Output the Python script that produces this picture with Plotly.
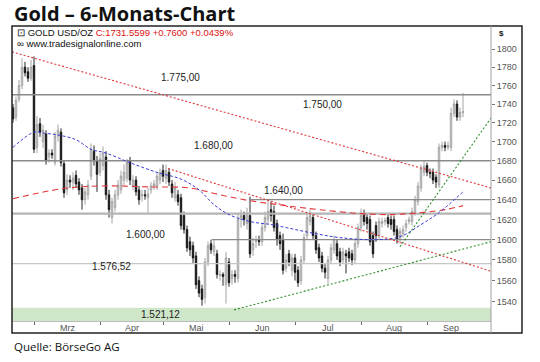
import math
import plotly.graph_objects as go

# ---------------- data ----------------
title_text = "Gold – 6-Monats-Chart"
source_text = "Quelle: BörseGo AG"
instrument = "GOLD USD/OZ"
quote_text = "C:1731.5599 +0.7600 +0.0439%"
website = "www.tradesignalonline.com"

day = list(range(151))
open_ = [1736, 1726, 1745, 1760, 1780, 1775, 1768, 1782, 1694, 1719,
         1700, 1708, 1684, 1688, 1678, 1706, 1710, 1677, 1650, 1660,
         1658, 1665, 1658, 1652, 1640, 1645, 1664, 1690, 1680, 1668,
         1675, 1684, 1645, 1622, 1632, 1645, 1650, 1660, 1662, 1680,
         1654, 1660, 1650, 1644, 1645, 1642, 1650, 1654, 1654, 1660,
         1670, 1662, 1668, 1656, 1642, 1645, 1642, 1624, 1610, 1598,
         1594, 1584, 1560, 1552, 1544, 1578, 1596, 1588, 1586, 1565,
         1566, 1556, 1578, 1562, 1566, 1562, 1620, 1624, 1616, 1624,
         1590, 1598, 1600, 1598, 1612, 1620, 1630, 1628, 1616, 1604,
         1600, 1572, 1586, 1570, 1582, 1570, 1560, 1580, 1604, 1618,
         1622, 1604, 1592, 1584, 1572, 1562, 1580, 1590, 1596, 1588,
         1580, 1586, 1588, 1586, 1580, 1596, 1612, 1626, 1622, 1620,
         1604, 1614, 1604, 1616, 1618, 1622, 1620, 1620, 1610, 1600,
         1606, 1612, 1618, 1618, 1628, 1638, 1652, 1668, 1675, 1668,
         1668, 1663, 1655, 1694, 1696, 1694, 1694, 1730, 1740, 1726,
         1731]
high = [1740, 1748, 1766, 1790, 1786, 1780, 1788, 1792, 1727, 1725,
        1718, 1712, 1692, 1692, 1710, 1718, 1714, 1680, 1666, 1665,
        1668, 1670, 1662, 1656, 1652, 1660, 1698, 1696, 1685, 1688,
        1695, 1690, 1650, 1642, 1650, 1660, 1670, 1676, 1682, 1684,
        1665, 1664, 1654, 1650, 1650, 1652, 1658, 1660, 1668, 1672,
        1676, 1676, 1672, 1660, 1658, 1650, 1646, 1628, 1614, 1603,
        1598, 1588, 1564, 1556, 1582, 1598, 1600, 1600, 1590, 1570,
        1568, 1588, 1582, 1570, 1570, 1626, 1630, 1628, 1632, 1643,
        1602, 1604, 1604, 1616, 1628, 1640, 1638, 1634, 1620, 1608,
        1606, 1586, 1590, 1586, 1586, 1574, 1584, 1606, 1628, 1630,
        1626, 1608, 1596, 1588, 1576, 1584, 1596, 1604, 1600, 1592,
        1592, 1590, 1592, 1590, 1600, 1616, 1631, 1630, 1626, 1624,
        1608, 1618, 1622, 1622, 1622, 1626, 1624, 1624, 1614, 1612,
        1614, 1620, 1623, 1632, 1644, 1658, 1676, 1680, 1678, 1672,
        1672, 1666, 1698, 1700, 1700, 1700, 1736, 1745, 1744, 1736,
        1752]
low = [1720, 1722, 1742, 1756, 1770, 1764, 1765, 1688, 1688, 1705,
       1693, 1676, 1678, 1682, 1675, 1700, 1674, 1642, 1645, 1652,
       1650, 1652, 1645, 1630, 1635, 1640, 1660, 1675, 1648, 1664,
       1670, 1640, 1622, 1616, 1628, 1640, 1646, 1655, 1658, 1655,
       1650, 1644, 1635, 1638, 1640, 1626, 1646, 1650, 1650, 1656,
       1658, 1656, 1654, 1642, 1638, 1634, 1610, 1606, 1588, 1584,
       1576, 1552, 1544, 1536, 1538, 1574, 1586, 1584, 1562, 1560,
       1555, 1538, 1554, 1556, 1558, 1558, 1612, 1614, 1610, 1582,
       1584, 1592, 1594, 1594, 1608, 1616, 1618, 1608, 1594, 1590,
       1566, 1568, 1574, 1564, 1560, 1554, 1556, 1576, 1600, 1614,
       1600, 1586, 1578, 1568, 1562, 1557, 1576, 1586, 1580, 1574,
       1576, 1567, 1578, 1575, 1576, 1592, 1608, 1614, 1610, 1594,
       1582, 1598, 1600, 1612, 1614, 1612, 1610, 1604, 1596, 1596,
       1602, 1608, 1615, 1614, 1624, 1634, 1648, 1664, 1664, 1662,
       1656, 1652, 1652, 1690, 1690, 1691, 1690, 1726, 1722, 1722,
       1726]
close = [1724, 1744, 1760, 1780, 1774, 1768, 1780, 1692, 1718, 1710,
         1712, 1680, 1688, 1686, 1706, 1712, 1678, 1647, 1660, 1658,
         1662, 1656, 1650, 1640, 1648, 1655, 1692, 1680, 1666, 1682,
         1688, 1645, 1630, 1638, 1645, 1655, 1664, 1668, 1678, 1660,
         1660, 1648, 1640, 1645, 1644, 1646, 1654, 1656, 1664, 1668,
         1664, 1670, 1658, 1647, 1652, 1638, 1614, 1610, 1592, 1590,
         1582, 1556, 1548, 1542, 1578, 1594, 1590, 1594, 1566, 1566,
         1564, 1582, 1558, 1566, 1564, 1620, 1624, 1620, 1626, 1586,
         1596, 1600, 1598, 1612, 1622, 1628, 1624, 1612, 1600, 1596,
         1570, 1580, 1578, 1582, 1568, 1558, 1580, 1602, 1622, 1624,
         1604, 1590, 1582, 1572, 1568, 1580, 1592, 1600, 1584, 1578,
         1588, 1584, 1582, 1580, 1596, 1612, 1624, 1618, 1616, 1598,
         1586, 1604, 1618, 1618, 1619, 1616, 1615, 1608, 1600, 1608,
         1610, 1616, 1620, 1628, 1640, 1654, 1672, 1674, 1668, 1667,
         1660, 1658, 1694, 1696, 1694, 1696, 1730, 1740, 1726, 1731,
         1731.56]

# moving averages (day index, price)
ma_fast_day = [0, 7, 10, 15, 21, 26, 31, 39, 48, 56, 62, 67, 72, 79, 86, 91,
               99, 109, 121, 129, 136, 142, 150]
ma_fast_val = [1694, 1710, 1709, 1707, 1702, 1692, 1688, 1678, 1668, 1661,
               1650, 1635, 1625, 1618, 1615, 1612, 1607, 1602, 1600, 1603,
               1615, 1627, 1648]
ma_slow_day = [0, 16, 29, 46, 59, 69, 79, 91, 102, 116, 126, 136, 144, 150]
ma_slow_val = [1641, 1651, 1654, 1653, 1652, 1645, 1639, 1634, 1630, 1626,
               1625, 1627, 1630, 1634]

# trend lines (day index, price) at their ends
res_upper_day = [-0.33, 159.33]
res_upper_val = [1797, 1652]
res_lower_day = [51.7, 159.33]
res_lower_val = [1672, 1569]
sup_lower_day = [73.7, 159.33]
sup_lower_val = [1532, 1598]
sup_steep_day = [129, 159.33]
sup_steep_val = [1593, 1725]

# horizontal levels
level_val = [1750, 1680, 1640, 1626, 1600, 1576.52]
level_from = [-0.33, -0.33, 78.7, -0.33, 66.3, -0.33]
level_label = ["1.750,00", "1.680,00", "1.640,00", "", "1.600,00", "1.576,52"]
extra_label = "1.775,00"
zone_low = 1521.12
zone_high = 1534
zone_label = "1.521,12"

month_start = [7, 29, 50, 72, 94, 116, 138]
month_names = ["Mrz", "Apr", "Mai", "Jun", "Jul", "Aug", "Sep"]
y_ticks = [1540, 1560, 1580, 1600, 1620, 1640, 1660, 1680, 1700, 1720,
           1740, 1760, 1780, 1800]

# ---------------- figure ----------------
X0, X1 = -0.333, 159.333
Y0, Y1 = 1521.5, 1826.0
LBL = "Liberation Sans, Arial, sans-serif"

fig = go.Figure()

# support zone
fig.add_shape(type="rect", xref="x", yref="y", x0=X0, x1=X1, y0=zone_low, y1=zone_high,
              fillcolor="#cfe6c9", line=dict(width=0), layer="below")

# level lines
level_colors = ["#8a8a8a", "#8a8a8a", "#8a8a8a", "#b4b4b4", "#8a8a8a", "#c6c6c6"]
level_widths = [1.3, 1.3, 1.3, 2.2, 1.3, 1.3]
for v, f, c, w in zip(level_val, level_from, level_colors, level_widths):
    fig.add_trace(go.Scatter(x=[f, X1], y=[v, v], mode="lines",
                             line=dict(color=c, width=w), hoverinfo="skip", showlegend=False))

# moving averages
fig.add_trace(go.Scatter(x=ma_slow_day, y=ma_slow_val, mode="lines", line_shape="spline",
                         line=dict(color="#e0373a", width=1.1, dash="6px,4px"),
                         hoverinfo="skip", showlegend=False))
fig.add_trace(go.Scatter(x=ma_fast_day, y=ma_fast_val, mode="lines", line_shape="spline",
                         line=dict(color="#3c3cd6", width=1.0, dash="3px,2px"),
                         hoverinfo="skip", showlegend=False))

# trend lines
for xs, ys, col in [(res_upper_day, res_upper_val, "#e0373a"),
                    (res_lower_day, res_lower_val, "#e0373a"),
                    (sup_lower_day, sup_lower_val, "#2f8f2f"),
                    (sup_steep_day, sup_steep_val, "#2f8f2f")]:
    fig.add_trace(go.Scatter(x=xs, y=ys, mode="lines",
                             line=dict(color=col, width=1.1, dash="2px,2px"),
                             hoverinfo="skip", showlegend=False))

# candles
fig.add_trace(go.Candlestick(
    x=day, open=open_, high=high, low=low, close=close,
    increasing=dict(line=dict(color="#9a9a9a", width=0.9), fillcolor="#eeeeee"),
    decreasing=dict(line=dict(color="#111111", width=0.9), fillcolor="#111111"),
    whiskerwidth=0, showlegend=False, hoverinfo="skip"))

# level labels (annotation y on a log axis is given as log10)
lab_pos = {"1.750,00": (103.3, 1740), "1.680,00": (66.7, 1696), "1.640,00": (90, 1649),
           "1.600,00": (44, 1605), "1.576,52": (32.7, 1574)}
anns = []
for t in level_label:
    if t:
        px, py = lab_pos[t]
        anns.append(dict(x=px, y=math.log10(py), xref="x", yref="y", text=t, showarrow=False,
                         font=dict(family=LBL, size=10, color="#222222")))
anns.append(dict(x=55.7, y=math.log10(1769), xref="x", yref="y", text=extra_label,
                 showarrow=False, font=dict(family=LBL, size=10, color="#222222")))
anns.append(dict(x=49, y=math.log10(1528), xref="x", yref="y", text=zone_label,
                 showarrow=False, font=dict(family=LBL, size=10, color="#222222")))

# month labels centred between month starts
ends = month_start[1:] + [154]
for s, e, n in zip(month_start, ends, month_names):
    anns.append(dict(x=(s + e) / 2, y=-0.024, xref="x", yref="paper", text=n,
                     showarrow=False, yanchor="middle",
                     font=dict(family=LBL, size=9, color="#555555")))

# header texts
anns.append(dict(x=0.006, y=0.977, xref="paper", yref="paper", xanchor="left", yanchor="middle",
                 text="⊡ " + instrument + " <span style='color:#e01010'>" + quote_text + "</span>",
                 showarrow=False, font=dict(family=LBL, size=9.5, color="#111111")))
anns.append(dict(x=0.006, y=0.939, xref="paper", yref="paper", xanchor="left", yanchor="middle",
                 text="∞ " + website, showarrow=False,
                 font=dict(family=LBL, size=9.5, color="#111111")))
anns.append(dict(x=1.012, y=0.976, xref="paper", yref="paper", xanchor="left", yanchor="middle",
                 text="<b>$</b>", showarrow=False, font=dict(family=LBL, size=8, color="#111111")))
anns.append(dict(x=0.0, y=1.0435, xref="paper", yref="paper", xanchor="left", yanchor="middle",
                 text="<b>" + title_text + "</b>", showarrow=False,
                 font=dict(family="Open Sans, sans-serif", size=20, color="#111111")))
anns.append(dict(x=0.0, y=-0.088, xref="paper", yref="paper", xanchor="left", yanchor="middle",
                 text=source_text, showarrow=False,
                 font=dict(family="Open Sans, sans-serif", size=11.5, color="#111111")))

# outer frame
fig.add_shape(type="rect", xref="paper", yref="paper", x0=0, x1=1.0647, y0=-0.0407, y1=1.0,
              line=dict(color="#222222", width=1.5), fillcolor="rgba(0,0,0,0)", layer="above")
fig.add_shape(type="line", xref="paper", yref="paper", x0=1.0, x1=1.0, y0=-0.0407, y1=1.0,
              line=dict(color="#a0a0a0", width=1), layer="above")

fig.update_layout(
    width=540, height=362,
    margin=dict(l=12, r=49, t=26, b=41),
    paper_bgcolor="white", plot_bgcolor="white",
    annotations=anns,
    xaxis=dict(range=[X0, X1], showgrid=False, zeroline=False, rangeslider=dict(visible=False),
               tickvals=month_start, showticklabels=False, ticks="outside", ticklen=3,
               tickcolor="#666666", showline=True, linecolor="#bbbbbb", linewidth=1),
    yaxis=dict(type="log", range=[math.log10(Y0), math.log10(Y1)],
               side="right", showgrid=False, zeroline=False, tickvals=y_ticks,
               ticktext=[str(v) for v in y_ticks], ticks="outside", ticklen=3,
               tickcolor="#777777", tickfont=dict(family=LBL, size=9, color="#555555"),
               showline=False),
)

# remove the default page margin so the 540x362 figure fills the window exactly
fig.write_html("out.html", config={"displayModeBar": False},
               post_script="document.body.style.margin='0';document.body.style.overflow='hidden';")
